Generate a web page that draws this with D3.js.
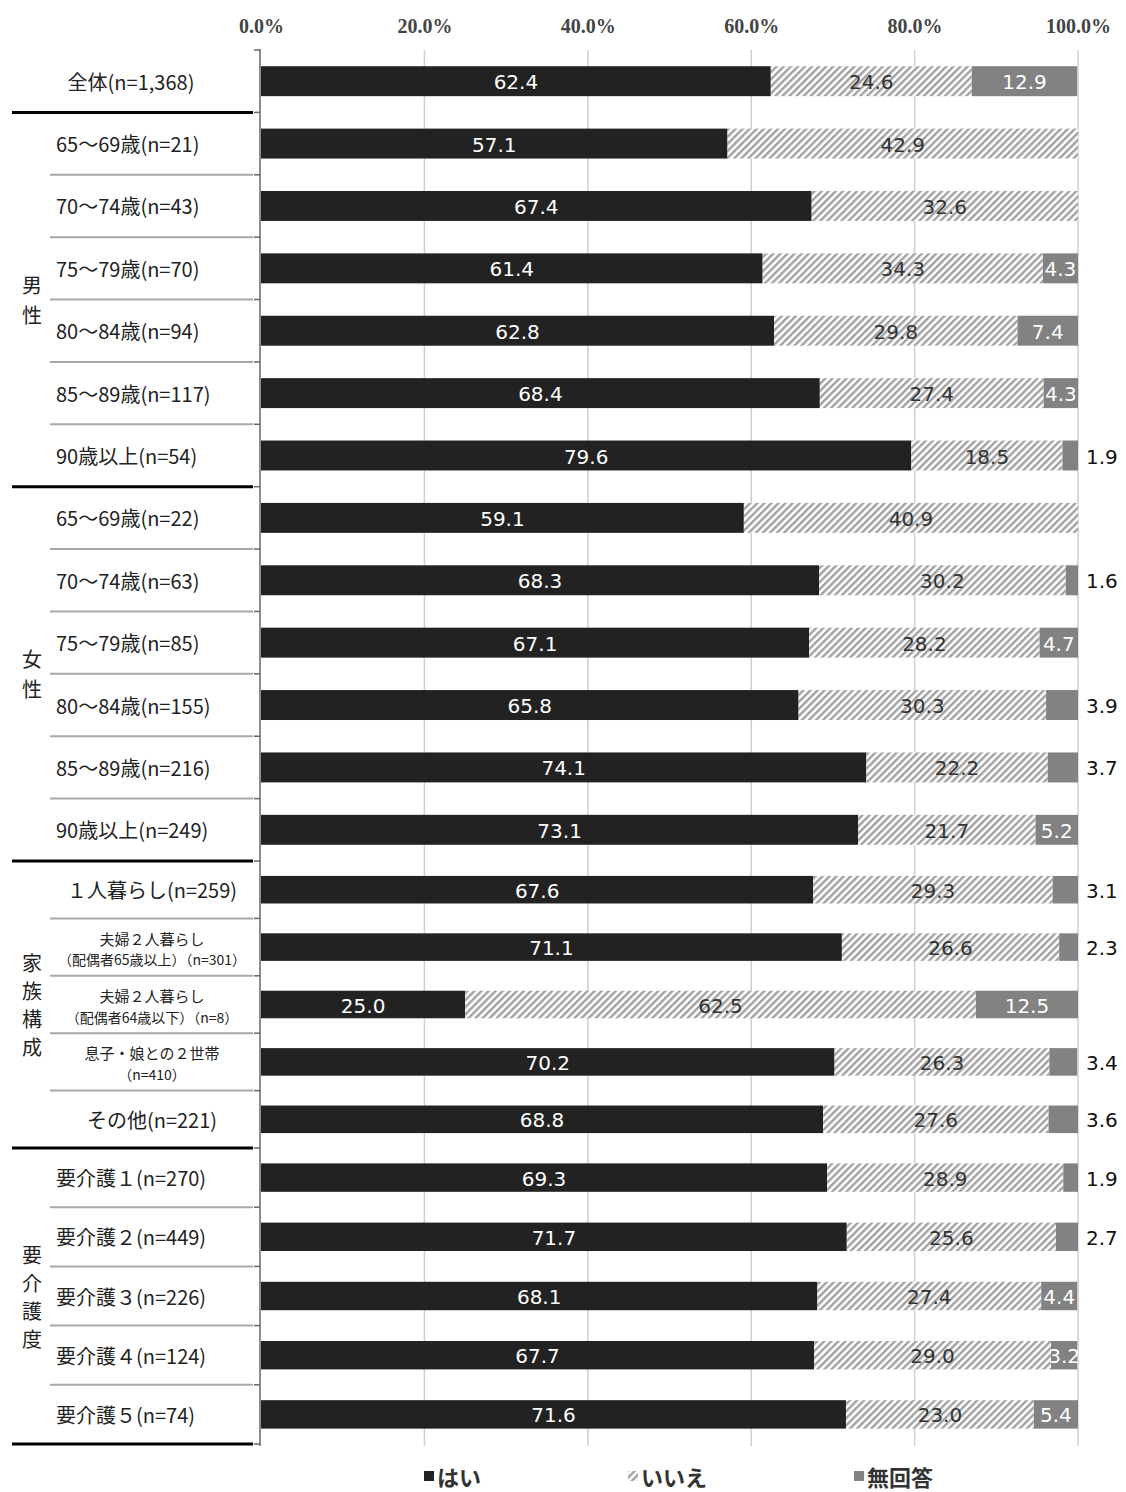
<!DOCTYPE html>
<html><head><meta charset="utf-8">
<script src="https://cdn.jsdelivr.net/npm/d3@7"></script>
<style>body{margin:0;background:#fff}</style>
</head><body><svg id="c" width="1126" height="1492"></svg>
<script>
// ---- data ----
const categories = [
  "全体(n=1,368)",
  "65～69歳(n=21)", "70～74歳(n=43)", "75～79歳(n=70)", "80～84歳(n=94)", "85～89歳(n=117)", "90歳以上(n=54)",
  "65～69歳(n=22)", "70～74歳(n=63)", "75～79歳(n=85)", "80～84歳(n=155)", "85～89歳(n=216)", "90歳以上(n=249)",
  "１人暮らし(n=259)", "夫婦２人暮らし\n（配偶者65歳以上）（n=301）", "夫婦２人暮らし\n（配偶者64歳以下）（n=8）", "息子・娘との２世帯\n（n=410）", "その他(n=221)",
  "要介護１(n=270)", "要介護２(n=449)", "要介護３(n=226)", "要介護４(n=124)", "要介護５(n=74)"
];
const groupNames = ["", "男性", "女性", "家族構成", "要介護度"];
const groupOf = [0, 1,1,1,1,1,1, 2,2,2,2,2,2, 3,3,3,3,3, 4,4,4,4,4];
const yes      = [62.4, 57.1,67.4,61.4,62.8,68.4,79.6, 59.1,68.3,67.1,65.8,74.1,73.1, 67.6,71.1,25.0,70.2,68.8, 69.3,71.7,68.1,67.7,71.6];
const no       = [24.6, 42.9,32.6,34.3,29.8,27.4,18.5, 40.9,30.2,28.2,30.3,22.2,21.7, 29.3,26.6,62.5,26.3,27.6, 28.9,25.6,27.4,29.0,23.0];
const noAnswer = [12.9, 0,0,4.3,7.4,4.3,1.9, 0,1.6,4.7,3.9,3.7,5.2, 3.1,2.3,12.5,3.4,3.6, 1.9,2.7,4.4,3.2,5.4];
const noAnswerLabelOutside = [6, 8, 10, 11, 13, 14, 16, 17, 18, 19];
const xTicks = [0, 20, 40, 60, 80, 100];
const legendLabels = ["はい", "いいえ", "無回答"];

// ---- drawing ----
const svg = d3.select("#c");
const jp = "'Noto Sans CJK JP','Noto Sans',sans-serif";
const num = "'DejaVu Sans','Noto Sans',sans-serif";

const defs = svg.append("defs");
const pat = defs.append("pattern").attr("id","hatch").attr("patternUnits","userSpaceOnUse")
  .attr("width",5).attr("height",5).attr("patternTransform","rotate(45)");
pat.append("rect").attr("width",5).attr("height",5).attr("fill","#fff");
pat.append("line").attr("x1",1.2).attr("y1",0).attr("x2",1.2).attr("y2",5).attr("stroke","#a0a0a0").attr("stroke-width",2.4);

const x = d3.scaleLinear().domain([0,100]).range([261,1078]);

const blocks = [
  {rows: d3.range(0,13),  y0: 50,   y1: 861},
  {rows: d3.range(13,18), y0: 861,  y1: 1148},
  {rows: d3.range(18,23), y0: 1148, y1: 1444}
];
const pad = 0.52;
const yScales = blocks.map(b => d3.scaleBand().domain(b.rows).range([b.y0, b.y1]).paddingInner(pad).paddingOuter(pad/2));
const yOf = i => yScales.find(s => s.domain().includes(i));
const rowTop = i => { const s = yOf(i); return s(i) - s.step()*pad/2; };
const rowBot = i => { const s = yOf(i); return s(i) + s.bandwidth() + s.step()*pad/2; };
const rowMid = i => { const s = yOf(i); return s(i) + s.bandwidth()/2; };

// gridlines
svg.append("g").selectAll("line").data(xTicks.slice(1)).join("line")
  .attr("x1", d => x(d)).attr("x2", d => x(d)).attr("y1", 50).attr("y2", 1446)
  .attr("stroke", "#cfcfcf").attr("stroke-width", 1.5);

// top axis labels
const xAxis = d3.axisTop(x).tickValues(xTicks).tickSize(0).tickFormat(d => d.toFixed(1) + "%");
const gx = svg.append("g").attr("transform","translate(0,36)").call(xAxis);
gx.select(".domain").remove();
gx.selectAll("text").attr("font-family","'Liberation Serif','DejaVu Serif',serif").attr("font-size",20)
  .attr("font-weight","bold").attr("fill","#444");

// rows
const rows = categories.map((c,i) => ({i, c, g: groupOf[i], segs: [
  {k:"yes", v: yes[i], x0: 0, x1: yes[i]},
  {k:"no", v: no[i], x0: yes[i], x1: yes[i] + no[i]},
  {k:"na", v: noAnswer[i], x0: yes[i] + no[i], x1: yes[i] + no[i] + noAnswer[i]}
]}));
const fills = {yes: "#222222", no: "url(#hatch)", na: "#828282"};
const textFill = {yes: "#ffffff", no: "#333333", na: "#ffffff"};

const rg = svg.append("g").selectAll("g").data(rows).join("g");
rg.selectAll("rect").data(d => d.segs.filter(s => s.v > 0).map(s => ({...s, i: d.i}))).join("rect")
  .attr("x", s => x(s.x0)).attr("width", s => Math.min(x(s.x1), x(100)) - x(s.x0))
  .attr("y", s => yOf(s.i)(s.i)).attr("height", s => yOf(s.i).bandwidth())
  .attr("fill", s => fills[s.k]);
rg.selectAll("text").data(d => d.segs.filter(s => s.v > 0).map(s => ({...s, i: d.i}))).join("text")
  .attr("x", s => (s.k === "na" && noAnswerLabelOutside.includes(s.i)) ? x(100) + 8 : (x(s.x0) + Math.min(x(s.x1), x(100))) / 2)
  .attr("y", s => rowMid(s.i) + 1)
  .attr("text-anchor", s => (s.k === "na" && noAnswerLabelOutside.includes(s.i)) ? "start" : "middle")
  .attr("dominant-baseline","central")
  .attr("font-family", num).attr("font-size", 20)
  .attr("fill", s => (s.k === "na" && noAnswerLabelOutside.includes(s.i)) ? "#111" : textFill[s.k])
  .text(s => s.v.toFixed(1));

// vertical axis line and ticks at row boundaries
svg.append("line").attr("x1",260).attr("x2",260).attr("y1",49).attr("y2",1446).attr("stroke","#666").attr("stroke-width",1.5);
const bounds = [rowTop(0)].concat(categories.map((c,i) => rowBot(i)));
svg.append("g").selectAll("line").data(bounds).join("line")
  .attr("x1",254).attr("x2",260).attr("y1",d=>d).attr("y2",d=>d).attr("stroke","#666").attr("stroke-width",1.5);

// separator lines in label area
const sep = svg.append("g");
categories.forEach((c,i) => {
  const y = rowBot(i);
  const thick = (i === categories.length - 1) || groupOf[i] !== groupOf[i+1];
  sep.append("line").attr("x1", thick ? 12 : 50).attr("x2", 253).attr("y1", y).attr("y2", y)
    .attr("stroke", thick ? "#000" : "#a8a8a8").attr("stroke-width", thick ? 3 : 2);
});

// category labels
const lab = svg.append("g").selectAll("text").data(rows).join("text")
  .attr("font-family", jp).attr("fill", "#222")
  .attr("text-anchor", d => (d.g === 0 || d.g === 3) ? "middle" : "start")
  .attr("x", d => d.g === 0 ? 131 : d.g === 3 ? 152 : 56)
  .attr("y", d => rowMid(d.i))
  .attr("font-size", d => d.c.includes("\n") ? 14.5 : 20);
lab.each(function(d){
  const parts = d.c.split("\n");
  const t = d3.select(this);
  if (parts.length === 1) {
    t.attr("dominant-baseline","central").text(parts[0]);
  } else {
    parts.forEach((p,k) => t.append("tspan").attr("x", 152)
      .attr("y", rowMid(d.i) + (k === 0 ? -9 : 12)).attr("dominant-baseline","central")
      .attr("font-size", k === 0 ? 15 : 14).text(p));
  }
});

// group labels (vertical)
groupNames.forEach((g, gi) => {
  if (!g) return;
  const idx = d3.range(categories.length).filter(i => groupOf[i] === gi);
  const c = (rowTop(idx[0]) + rowBot(idx[idx.length-1])) / 2;
  const chars = Array.from(g);
  const sp = chars.length > 2 ? 28 : 30;
  chars.forEach((ch, k) => {
    svg.append("text").attr("x", 32).attr("y", c + (k - (chars.length-1)/2) * sp)
      .attr("text-anchor","middle").attr("dominant-baseline","central")
      .attr("font-family", jp).attr("font-size", 20).attr("fill","#222").text(ch);
  });
});

// legend
const legX = [424, 628, 854];
const legFill = ["#222222", "url(#hatch)", "#828282"];
const lg = svg.append("g").selectAll("g").data(legendLabels).join("g")
  .attr("transform", (d,k) => `translate(${legX[k]},1476)`);
lg.append("rect").attr("x",0).attr("y",-5).attr("width",10).attr("height",10)
  .attr("fill", (d,k) => legFill[k]);
lg.append("text").attr("x",13).attr("y",0).attr("dominant-baseline","central")
  .attr("font-family", jp).attr("font-weight","bold").attr("font-size",22).attr("fill","#333").text(d => d);
</script></body></html>
